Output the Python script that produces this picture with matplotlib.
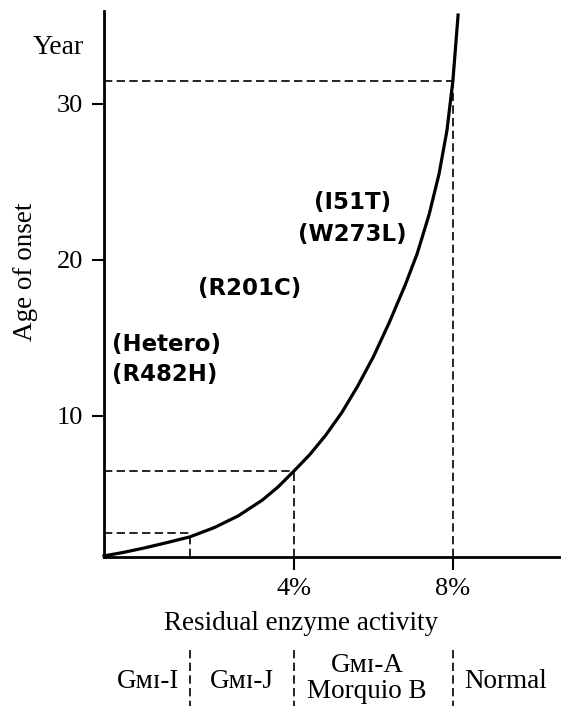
import matplotlib
matplotlib.use("Agg")
import matplotlib.pyplot as plt
import matplotlib.transforms as mtransforms

# data (x = residual activity %, y = age of onset in years)
curve_x = [-0.78, -0.3, 0.2, 0.8, 1.38, 2.0, 2.6, 3.2, 3.6, 4.0, 4.4, 4.8,
           5.2, 5.6, 6.0, 6.4, 6.8, 7.1, 7.4, 7.65, 7.85, 8.0, 8.13]
curve_y = [1.03, 1.25, 1.52, 1.88, 2.25, 2.85, 3.6, 4.6, 5.45, 6.47, 7.53, 8.77,
           10.2, 11.9, 13.8, 16.0, 18.4, 20.4, 22.9, 25.5, 28.3, 31.5, 35.7]

# reference points marked with dashed guides
guide_x = [1.38, 4.0, 8.0]
guide_y = [2.5, 6.47, 31.5]

yticks = [10, 20, 30]
xticks = [4, 8]
xtick_labels = ["4%", "8%"]

# groups below the axis
group_bounds = [1.38, 4.0, 8.0]
group_centers = [0.32, 2.68, 5.84, 9.33]
group_labels = ["Gᴍɪ-I", "Gᴍɪ-J", "Gᴍɪ-A\nMorquio B", "Normal"]

serif = ["Liberation Serif", "DejaVu Serif", "DejaVu Sans"]
sans = ["DejaVu Sans"]

W, H = 561, 706
fig = plt.figure(figsize=(W / 100, H / 100), dpi=100)
ax = fig.add_axes([104 / W, 149 / H, 457 / W, 546 / H])

def fx(px):
    return px / W

def fy(py):
    return 1 - py / H

# main curve
ax.plot(curve_x, curve_y, color="black", lw=2.3, solid_joinstyle="round", clip_on=False)

# dashed guides
dash = (0, (5, 2.6))
for gx, gy in zip(guide_x, guide_y):
    ax.plot([-0.78, gx], [gy, gy], color="black", lw=1.2, linestyle=dash)
    ax.plot([gx, gx], [0.96, gy], color="black", lw=1.2, linestyle=dash)

ax.set_xlim(-0.78, 10.72)
ax.set_ylim(0.96, 35.96)

for s in ["top", "right"]:
    ax.spines[s].set_visible(False)
for s in ["left", "bottom"]:
    ax.spines[s].set_linewidth(2.0)

ax.set_yticks(yticks)
ax.set_yticklabels([str(v) for v in yticks], fontfamily=serif, fontsize=19)
ax.set_xticks(xticks)
ax.set_xticklabels(xtick_labels, fontfamily=serif, fontsize=19)
ax.tick_params(axis="y", direction="out", length=9, width=1.5, pad=6)
ax.tick_params(axis="x", direction="out", length=9, width=1.5, pad=6)

# axis texts
fig.text(fx(58), fy(48), "Year", family=serif, fontsize=20, ha="center", va="center")
fig.text(fx(25), fy(272), "Age of onset", family=serif, fontsize=19.5,
         ha="center", va="center", rotation=90)
fig.text(fx(301), fy(623), "Residual enzyme activity", family=serif, fontsize=19.5,
         ha="center", va="center")

# mutation labels
mut = dict(family=sans, fontsize=16.5, fontweight="bold", va="center")
fig.text(fx(112), fy(345), "(Hetero)", ha="left", **mut)
fig.text(fx(112), fy(375), "(R482H)", ha="left", **mut)
fig.text(fx(250), fy(289), "(R201C)", ha="center", **mut)
fig.text(fx(353), fy(202), "(I51T)", ha="center", **mut)
fig.text(fx(352), fy(234), "(W273L)", ha="center", **mut)

# group row under the axis
trans = mtransforms.blended_transform_factory(ax.transData, fig.transFigure)
for b in group_bounds:
    fig.add_artist(plt.Line2D([b, b], [fy(650), fy(706)], transform=trans,
                              color="black", lw=1.2, linestyle=dash))
for cx, lab in zip(group_centers, group_labels):
    lines = lab.split("\n")
    if len(lines) == 1:
        ys = [682]
    else:
        ys = [665, 692]
    for line, yy in zip(lines, ys):
        fig.text(cx, fy(yy), line, transform=trans, family=serif, fontsize=19.5,
                 ha="center", va="center")

fig.savefig("out.png", dpi=100)
